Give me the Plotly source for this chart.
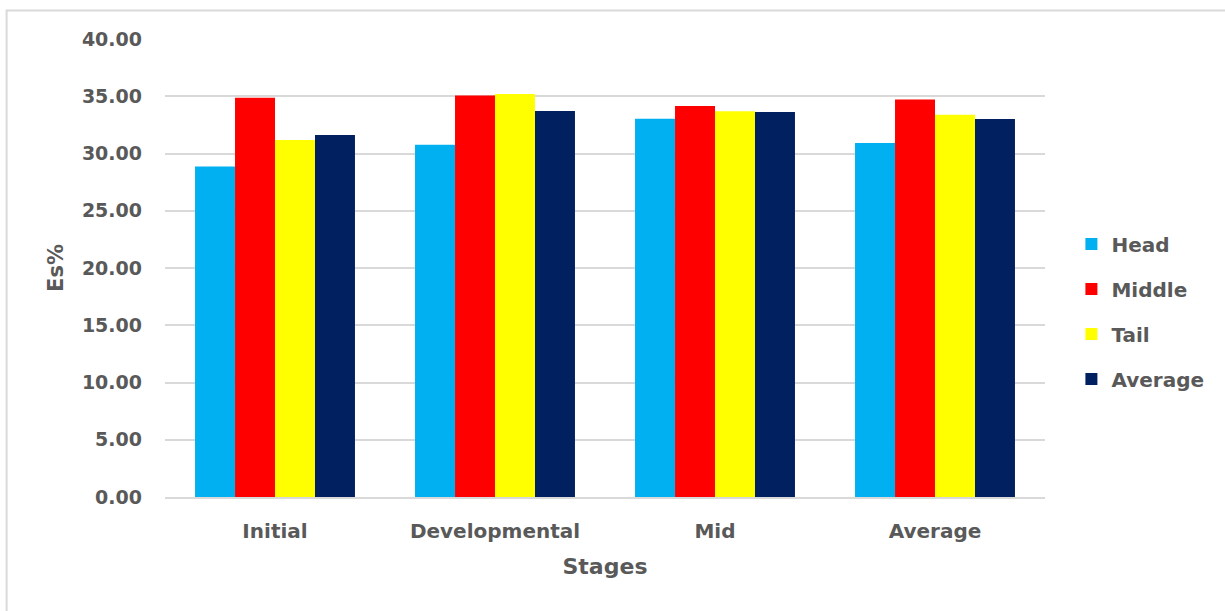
import plotly.graph_objects as go

# Es% by stage for each section of the field
stages = ["Initial", "Developmental", "Mid", "Average"]
head = [28.87, 30.77, 33.04, 30.92]
middle = [34.86, 35.06, 34.15, 34.71]
tail = [31.18, 35.20, 33.68, 33.39]
average = [31.62, 33.72, 33.63, 33.02]

series = [
    ("Head", head, "#00B0F0"),
    ("Middle", middle, "#FF0000"),
    ("Tail", tail, "#FFFF00"),
    ("Average", average, "#002060"),
]

FONT = "DejaVu Sans"
TXT = "#595959"

fig = go.Figure()
for name, vals, color in series:
    fig.add_trace(go.Bar(
        x=stages, y=vals, name=name, legendgroup=name,
        marker=dict(color=color, line=dict(width=0)),
    ))

fig.update_layout(
    width=1225, height=611,
    margin=dict(l=165, r=180, t=39, b=114),
    paper_bgcolor="white", plot_bgcolor="white",
    barmode="group", bargap=0.273, bargroupgap=0,
    font=dict(family=FONT, color=TXT, size=18),
    legend=dict(
        x=1.03, y=0.405, xanchor="left", yanchor="middle",
        font=dict(family=FONT, size=20, color=TXT, weight="bold"),
        tracegroupgap=16, itemwidth=30,
    ),
    xaxis=dict(
        showgrid=False, showline=True, linecolor="#d9d9d9", linewidth=2,
        tickfont=dict(family=FONT, size=20, color=TXT, weight="bold"),
        ticks="", ticklabelstandoff=15,
        title=dict(text="Stages", standoff=17,
                   font=dict(family=FONT, size=22, color=TXT, weight="bold")),
    ),
    yaxis=dict(
        range=[0, 40], dtick=5, tickformat=".2f",
        showgrid=True, gridcolor="#d9d9d9", gridwidth=2,
        zeroline=False, showline=False, ticks="",
        ticklabelstandoff=22,
        tickfont=dict(family=FONT, size=19, color=TXT, weight="bold"),
        title=dict(text="Es%", standoff=12,
                   font=dict(family=FONT, size=21, color=TXT, weight="bold")),
    ),
)

# thin frame around the chart area
fig.add_shape(type="rect", xref="paper", yref="paper",
              x0=-0.18, x1=1.4, y0=-0.4, y1=1.062,
              line=dict(color="#d9d9d9", width=2), layer="below")

fig.write_html("out.html")
